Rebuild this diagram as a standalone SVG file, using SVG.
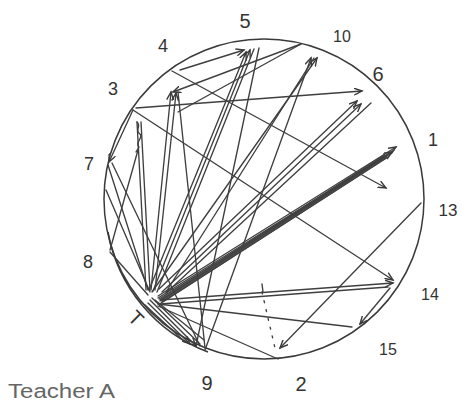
<svg xmlns="http://www.w3.org/2000/svg" width="461" height="405" viewBox="0 0 461 405">
<defs>
<marker id="ah" markerWidth="10" markerHeight="8" refX="8" refY="4" orient="auto" markerUnits="userSpaceOnUse">
<path d="M0,0.5 L8,4 L0,7.5" fill="none" stroke="#3a3a3a" stroke-width="1.4"/>
</marker>
<style>
.c{fill:none;stroke:#3a3a3a;stroke-width:1.5}
.l{fill:none;stroke:#3f3f3f;stroke-width:1.35;stroke-linecap:round}
.a{marker-end:url(#ah)}
.n{font-family:"Liberation Sans","DejaVu Sans",sans-serif;fill:#333;text-anchor:middle}
.d{stroke-dasharray:2,7}
</style>
</defs>
<rect width="461" height="405" fill="#fff"/>
<circle cx="264" cy="199" r="160" fill="#fbfcfe" class="c"/>
<path class="c" d="M108,232 A158,158 0 0 0 208,352"/>
<g id="connectors">
<path class="l a" d="M180,70 L244,50"/>
<path class="l a" d="M149,290 L246,52"/>
<path class="l a" d="M153,291 L250,50"/>
<path class="l" d="M157,292 L254,49"/>
<path class="l" d="M259,48 L196,346"/>
<path class="l a" d="M152,292 L317,58"/>
<path class="l a" d="M205,350 L311,58"/>
<path class="l a" d="M136,108 L362,91"/>
<path class="l a" d="M159,289 L357,101"/>
<path class="l a" d="M162,292 L361,104"/>
<path class="l" d="M166,293 L371,103"/>
<path d="M161,301 L386,156" fill="none" stroke="#555" stroke-width="5"/>
<path class="l a" d="M158,296 L396,147"/>
<path class="l" d="M158,298 L394,150"/>
<path class="l a" d="M159,299 L392,152"/>
<path class="l" d="M160,301 L390,154"/>
<path class="l" d="M161,303 L388,157"/>
<path class="l a" d="M172,71 L386,188"/>
<path class="l a" d="M133,110 L393,280"/>
<path class="l a" d="M160,300 L393,283"/>
<path class="l" d="M160,304 L388,287"/>
<path class="l a" d="M390,288 L360,324"/>
<path class="l" d="M158,304 L352,327"/>
<path class="l" d="M158,306 L278,359"/>
<path class="l a" d="M421,203 L280,348"/>
<path class="l d" d="M262,292 L275,348"/>
<path class="l" d="M262,284 L263,292"/>
<path class="l a" d="M301,44 L173,92"/>
<path class="l" d="M301,44 L178,112"/>
<path class="l a" d="M151,290 L171,92"/>
<path class="l a" d="M155,290 L176,93"/>
<path class="l" d="M146,290 L137,122"/>
<path class="l" d="M150,290 L141,122"/>
<path class="l a" d="M133,110 L109,162"/>
<path class="l" d="M108,165 L148,290"/>
<path class="l" d="M112,163 L200,346"/>
<path class="l" d="M138,150 L110,250"/>
<path class="l" d="M110,252 L148,295"/>
<path class="l" d="M106,190 L150,292"/>
<path class="l" d="M314,58 L166,292"/>
<path class="l" d="M178,92 L205,348"/>
<path class="l a" d="M150,300 L196,346"/>
<path class="l" d="M152,298 L200,344"/>
<path class="l a" d="M148,303 L190,344"/>
<path class="l" d="M155,300 L204,340"/>
<path class="l" d="M145,305 L185,342"/>
<path class="l" d="M137,122 C142,126 134,130 140,134 C144,138 134,142 139,147 L136,152"/>
</g>
<g id="n5"><text class="n" x="245" y="28" font-size="20">5</text></g>
<g id="n10"><text class="n" x="342" y="42" font-size="16">10</text></g>
<g id="n4"><text class="n" x="163" y="52" font-size="18">4</text></g>
<g id="n6"><text class="n" x="378" y="81" font-size="20">6</text></g>
<g id="n3"><text class="n" x="113" y="95" font-size="18">3</text></g>
<g id="n1"><text class="n" x="433" y="146" font-size="18">1</text></g>
<g id="n7"><text class="n" x="89" y="170" font-size="18">7</text></g>
<g id="n13"><text class="n" x="448" y="216" font-size="17">13</text></g>
<g id="n8"><text class="n" x="88" y="268" font-size="18">8</text></g>
<g id="n14"><text class="n" x="430" y="300" font-size="16">14</text></g>
<g id="nT"><text class="n" x="0" y="7" font-size="20" transform="translate(136,318) rotate(45)">T</text></g>
<g id="n15"><text class="n" x="388" y="355" font-size="16">15</text></g>
<g id="n9"><text class="n" x="207" y="390" font-size="20">9</text></g>
<g id="n2"><text class="n" x="301" y="391" font-size="20">2</text></g>
<g id="caption"><text x="8" y="398" font-family="Liberation Sans, Arial, sans-serif" font-size="20" fill="#666" textLength="107" lengthAdjust="spacingAndGlyphs">Teacher A</text></g>
</svg>
